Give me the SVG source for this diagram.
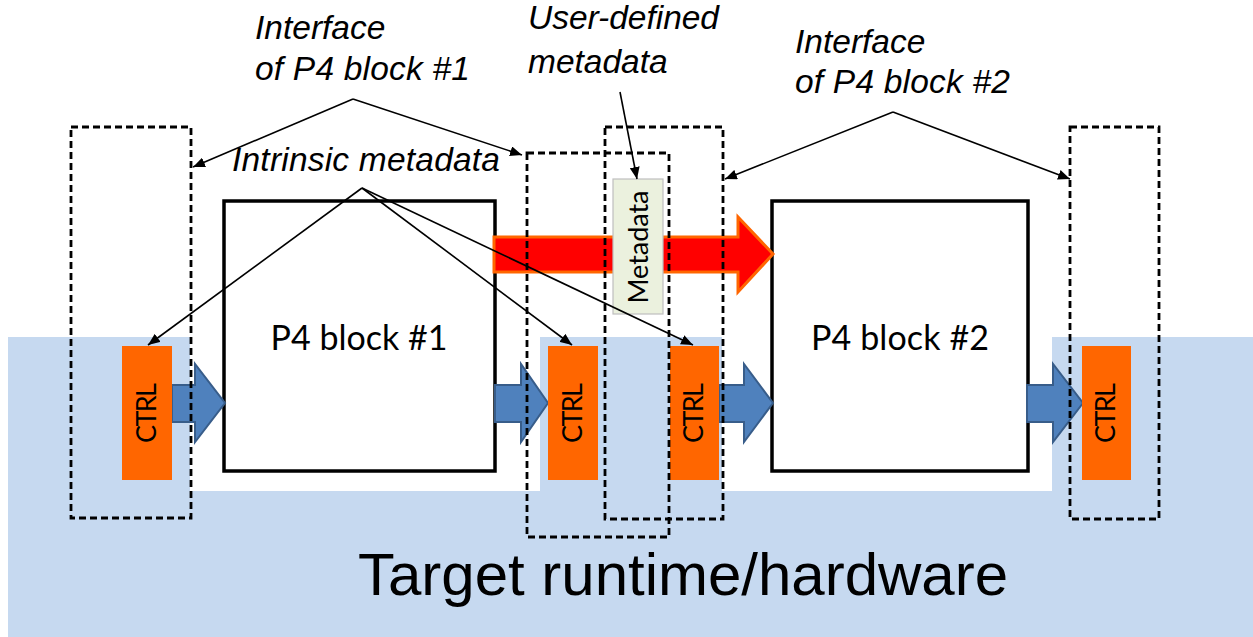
<svg xmlns="http://www.w3.org/2000/svg" width="1253" height="637" viewBox="0 0 1253 637">
<style>
.lbl{font-family:"Liberation Sans",Arial,sans-serif;font-style:italic;font-size:33.5px;fill:#000}
.blk{fill:#fff;stroke:#000;stroke-width:3.5}
.blkt{font-family:Lato,"Open Sans",sans-serif;font-size:34px;fill:#000;text-anchor:middle}
.ctrl{fill:#FF6600}
.ctrlt{font-family:Lato,"Open Sans",sans-serif;font-size:27px;fill:#000;text-anchor:middle}
.dash{fill:none;stroke:#000;stroke-width:2.8;stroke-dasharray:7 4}
.barrow{fill:#4F81BD;stroke:#385D8A;stroke-width:2}
.conn{fill:none;stroke:#000;stroke-width:1.6}
</style>
<defs>
<marker id="ah" viewBox="0 0 12 10" refX="12" refY="5" markerWidth="12" markerHeight="10" markerUnits="userSpaceOnUse" orient="auto">
<path d="M0,0 L12,5 L0,10 Z" fill="#000"/>
</marker>
</defs>
<rect width="1253" height="637" fill="#fff"/>
<g id="target">
<path d="M8,337 H190 V491 H540 V337 H722 V491 H1052 V337 H1253 V637 H8 Z" fill="#C6D9F0"/>
<text x="358" y="595" font-family="Liberation Sans,Arial,sans-serif" font-size="60" textLength="650" lengthAdjust="spacingAndGlyphs">Target runtime/hardware</text>
</g>
<g id="block1">
<rect class="blk" x="224" y="201" width="271" height="270"/>
<text class="blkt" x="359" y="350" textLength="177">P4 block #1</text>
</g>
<g id="block2">
<rect class="blk" x="772" y="201" width="256" height="270"/>
<text class="blkt" x="900" y="350" textLength="178">P4 block #2</text>
</g>
<g id="red-arrow">
<path d="M494,237 H738 V217 L773,254 L738,292 V272 H494 Z" fill="#FF0000" stroke="#FF6600" stroke-width="3"/>
</g>
<g id="blue-arrows">
<path class="barrow" d="M172,385 H195 V364 L225,403 L195,442 V422 H172 Z"/>
<path class="barrow" d="M495,385 H521 V364 L548,403 L521,442 V422 H495 Z"/>
<path class="barrow" d="M719,385 H744 V364 L773,403 L744,442 V422 H719 Z"/>
<path class="barrow" d="M1027,385 H1053 V364 L1083,403 L1053,442 V422 H1027 Z"/>
</g>
<g id="ctrl1"><rect class="ctrl" x="122" y="346" width="50" height="134"/><text class="ctrlt" transform="translate(156,413) rotate(-90)" textLength="60">CTRL</text></g>
<g id="ctrl2"><rect class="ctrl" x="548" y="346" width="50" height="134"/><text class="ctrlt" transform="translate(582,413) rotate(-90)" textLength="60">CTRL</text></g>
<g id="ctrl3"><rect class="ctrl" x="670" y="346" width="49" height="134"/><text class="ctrlt" transform="translate(703,413) rotate(-90)" textLength="60">CTRL</text></g>
<g id="ctrl4"><rect class="ctrl" x="1082" y="346" width="49" height="134"/><text class="ctrlt" transform="translate(1115,413) rotate(-90)" textLength="60">CTRL</text></g>
<g id="metadata">
<rect x="613" y="179" width="50" height="135" fill="#EBF1DE" stroke="#BFBFBF" stroke-width="1.2"/>
<text class="ctrlt" transform="translate(648,247) rotate(-90)" textLength="113">Metadata</text>
</g>
<g id="interfaces">
<rect class="dash" x="71" y="127" width="120" height="391"/>
<rect class="dash" x="527" y="153" width="142" height="384"/>
<rect class="dash" x="605" y="127" width="118" height="392"/>
<rect class="dash" x="1070" y="127" width="89" height="392"/>
</g>
<g id="labels">
<text class="lbl" x="255" y="39">Interface</text>
<text class="lbl" x="255" y="80" textLength="215">of P4 block #1</text>
<text class="lbl" x="528" y="29" textLength="191">User-defined</text>
<text class="lbl" x="528" y="73">metadata</text>
<text class="lbl" x="795" y="53">Interface</text>
<text class="lbl" x="795" y="93" textLength="215">of P4 block #2</text>
<text class="lbl" x="232" y="171" textLength="268">Intrinsic metadata</text>
</g>
<g id="connectors">
<line class="conn" x1="353" y1="99" x2="193" y2="167" marker-end="url(#ah)"/>
<line class="conn" x1="353" y1="99" x2="522" y2="155" marker-end="url(#ah)"/>
<line class="conn" x1="620" y1="92" x2="637" y2="179" marker-end="url(#ah)"/>
<line class="conn" x1="893" y1="112" x2="725" y2="179" marker-end="url(#ah)"/>
<line class="conn" x1="893" y1="112" x2="1070" y2="179" marker-end="url(#ah)"/>
<line class="conn" x1="362" y1="188" x2="148" y2="345" marker-end="url(#ah)"/>
<line class="conn" x1="362" y1="188" x2="572" y2="345" marker-end="url(#ah)"/>
<line class="conn" x1="362" y1="188" x2="693" y2="345" marker-end="url(#ah)"/>
</g>
</svg>
